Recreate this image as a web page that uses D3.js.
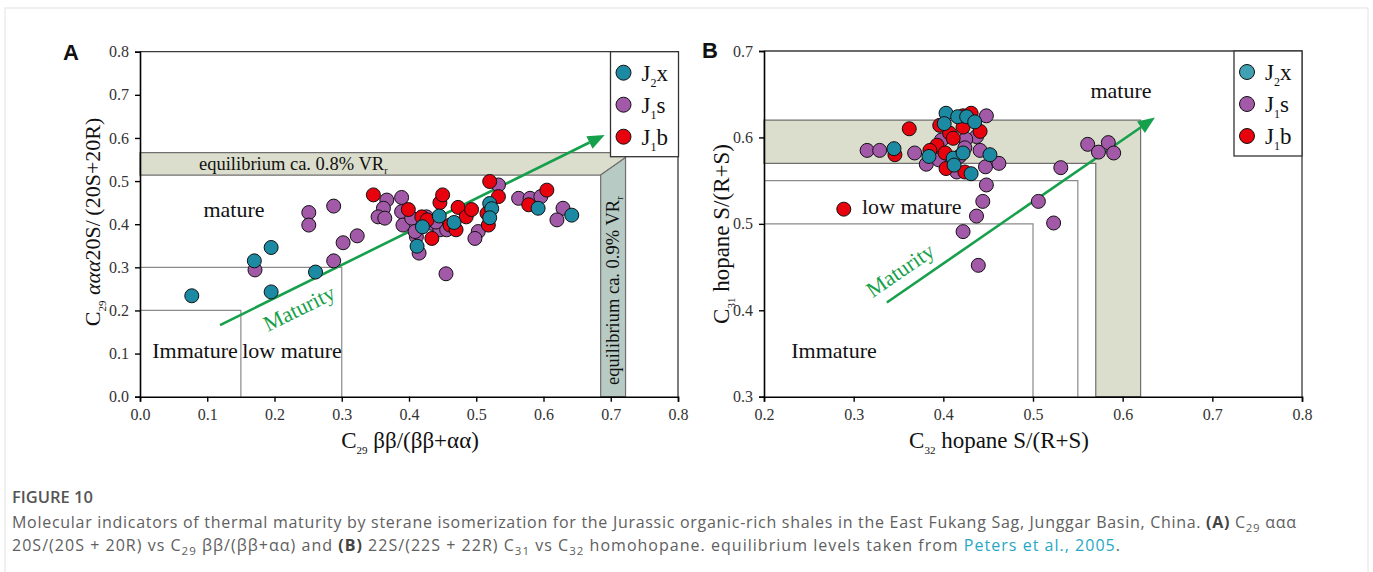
<!DOCTYPE html>
<html>
<head>
<meta charset="utf-8">
<script src="https://cdn.jsdelivr.net/npm/d3@7"></script>
<style>
  body { margin: 0; background: #fff; }
  svg { display: block; }
</style>
</head>
<body>
<svg id="chart"></svg>
<script>
// Data
// panel A : C29 bb/(bb+aa) vs C29 aaa20S/(20S+20R)
let aJ2x = [
  [0.077, 0.234], [0.195, 0.346], [0.170, 0.315], [0.195, 0.243], [0.261, 0.289],
  [0.412, 0.349], [0.420, 0.394], [0.445, 0.419], [0.467, 0.404], [0.520, 0.448],
  [0.523, 0.436], [0.520, 0.415], [0.592, 0.437], [0.642, 0.421]
];
let aJ1s = [
  [0.171, 0.294], [0.251, 0.427], [0.251, 0.398], [0.288, 0.442], [0.288, 0.315],
  [0.302, 0.357], [0.323, 0.373], [0.367, 0.456], [0.389, 0.462], [0.362, 0.437],
  [0.354, 0.417], [0.364, 0.414], [0.389, 0.429], [0.391, 0.398], [0.404, 0.414],
  [0.426, 0.417], [0.411, 0.371], [0.415, 0.333], [0.434, 0.402], [0.446, 0.387],
  [0.456, 0.387], [0.503, 0.383], [0.498, 0.367], [0.455, 0.285], [0.533, 0.491],
  [0.563, 0.460], [0.580, 0.460], [0.596, 0.464], [0.629, 0.437], [0.620, 0.410],
  [0.409, 0.383], [0.440, 0.405]
];
let aJ1b = [
  [0.347, 0.468], [0.399, 0.434], [0.419, 0.417], [0.434, 0.367], [0.446, 0.450],
  [0.450, 0.468], [0.461, 0.398], [0.470, 0.387], [0.473, 0.439], [0.485, 0.417],
  [0.493, 0.434], [0.520, 0.499], [0.518, 0.398], [0.516, 0.425], [0.533, 0.464],
  [0.578, 0.445], [0.605, 0.479], [0.427, 0.410]
];

// panel B : C32 hopane S/(R+S) vs C31 hopane S/(R+S)
let bJ2x = [
  [0.345, 0.587], [0.384, 0.578], [0.403, 0.628], [0.401, 0.616], [0.411, 0.576],
  [0.412, 0.568], [0.416, 0.624], [0.426, 0.624], [0.435, 0.618], [0.422, 0.582],
  [0.452, 0.580], [0.431, 0.558]
];
let bJ1s = [
  [0.315, 0.585], [0.329, 0.585], [0.368, 0.582], [0.381, 0.569], [0.398, 0.597],
  [0.395, 0.574], [0.415, 0.560], [0.448, 0.625], [0.437, 0.601], [0.425, 0.598],
  [0.424, 0.588], [0.441, 0.585], [0.447, 0.566], [0.462, 0.570], [0.418, 0.578],
  [0.448, 0.545], [0.444, 0.526], [0.437, 0.509], [0.422, 0.491], [0.439, 0.452],
  [0.506, 0.526], [0.523, 0.501], [0.531, 0.565], [0.561, 0.592], [0.573, 0.583],
  [0.584, 0.594], [0.590, 0.582]
];
let bJ1b = [
  [0.346, 0.580], [0.362, 0.610], [0.393, 0.591], [0.385, 0.585], [0.396, 0.614],
  [0.407, 0.605], [0.411, 0.599], [0.402, 0.582], [0.403, 0.564], [0.422, 0.612],
  [0.422, 0.625], [0.431, 0.628], [0.441, 0.607], [0.424, 0.560], [0.289, 0.517]
];

let aXTicks = [0, 0.1, 0.2, 0.3, 0.4, 0.5, 0.6, 0.7, 0.8];
let aYTicks = [0, 0.1, 0.2, 0.3, 0.4, 0.5, 0.6, 0.7, 0.8];
let bXTicks = [0.2, 0.3, 0.4, 0.5, 0.6, 0.7, 0.8];
let bYTicks = [0.3, 0.4, 0.5, 0.6, 0.7];

// region limits (data units)
let aImmature = [0.15, 0.2];
let aLowMature = [0.3, 0.3];
let aBandH = [0.514, 0.566];   // 0.8% VRr
let aBandV = [0.685, 0.722];   // 0.9% VRr
let bImmature = [0.5, 0.5];
let bLowMature = [0.55, 0.55];
let bBand = [0.57, 0.62];

let aArrow = [[0.119, 0.166], [0.691, 0.607]];
let bArrow = [[0.337, 0.409], [0.636, 0.623]];

let series = ["J2x", "J1s", "J1b"];

// Variables
const width = 1373;
const height = 572;
const serif = "'Liberation Serif', 'Times New Roman', serif";
const green = "#17a04b";
const colors = { J2x: "#1c8aa2", J1s: "#a259a8", J1b: "#e8020e" };
const bandFill = "#dcdecd";
const bandFill2 = "#b7cbc4";
const regionLine = "#8a8a8a";

let svg = d3.select("#chart").attr("width", width).attr("height", height);

svg.append("rect").attr("width", width).attr("height", height).attr("fill", "#fff");
// figure frame
svg.append("rect")
  .attr("x", 5).attr("y", 8).attr("width", 1363).attr("height", 600)
  .attr("fill", "none").attr("stroke", "#e2e2e2");

// Funciones

// text with subscripts, parts = [[text, kind], ...]
function richText(sel, parts, subSize, shift) {
  parts.forEach((p) => {
    let t = sel.append("tspan").text(p[0]);
    if (p[1] == "sub") t.attr("font-size", subSize).attr("baseline-shift", -shift);
    if (p[1] == "b") t.attr("font-weight", "bold").attr("fill", "#444");
    if (p[1] == "i") t.attr("font-style", "italic");
    if (p[1] == "link") t.attr("fill", "#27a8c4");
  });
  return sel;
}

function drawAxes(g, x, y, xt, yt) {
  let xAxis = d3.axisBottom(x).tickValues(xt).tickFormat(d3.format(".1f")).tickSize(5).tickPadding(7);
  let yAxis = d3.axisLeft(y).tickValues(yt).tickFormat(d3.format(".1f")).tickSize(5).tickPadding(6);

  // top / right frame
  g.append("path")
    .attr("d", `M${x.range()[0]},${y.range()[1]}H${x.range()[1]}V${y.range()[0]}`)
    .attr("fill", "none").attr("stroke", "#3a3a3a").attr("stroke-width", 1.3);

  let gx = g.append("g").attr("transform", "translate(0," + y.range()[0] + ")").call(xAxis);
  let gy = g.append("g").attr("transform", "translate(" + x.range()[0] + ",0)").call(yAxis);
  [gx, gy].forEach((a) => {
    a.attr("font-family", serif).attr("font-size", 16);
    a.select(".domain").attr("stroke", "#000").attr("stroke-width", 1.6);
    a.selectAll(".tick line").attr("stroke", "#000").attr("stroke-width", 1.4);
    a.selectAll(".tick text").attr("font-size", 16).attr("fill", "#333");
  });
}

function drawPoints(g, x, y, data) {
  // purple under red under teal
  [["J1s", data.J1s], ["J1b", data.J1b], ["J2x", data.J2x]].forEach((s) => {
    g.append("g").selectAll("circle")
      .data(s[1])
      .enter()
      .append("circle")
      .attr("cx", (d) => x(d[0]))
      .attr("cy", (d) => y(d[1]))
      .attr("r", 7)
      .attr("fill", colors[s[0]])
      .attr("stroke", "#111")
      .attr("stroke-width", 1);
  });
}

function drawLegend(g, left, top, teal) {
  g.append("rect")
    .attr("x", left).attr("y", top).attr("width", 68).attr("height", 105)
    .attr("fill", "#fff").attr("stroke", "#333").attr("stroke-width", 1.3);
  series.forEach((s, i) => {
    let cy = top + 21 + i * 32;
    g.append("circle")
      .attr("cx", left + 13).attr("cy", cy).attr("r", 7.5)
      .attr("fill", s == "J2x" ? teal : colors[s]).attr("stroke", "#111");
    let t = g.append("text")
      .attr("x", left + 31).attr("y", cy + 8)
      .attr("font-family", serif).attr("font-size", 23).attr("fill", "#111");
    richText(t, [["J", ""], [s.charAt(1), "sub"], [s.charAt(2), ""]], 12, 6);
  });
}

function drawArrow(g, x, y, pts) {
  let x0 = x(pts[0][0]), y0 = y(pts[0][1]);
  let x1 = x(pts[1][0]), y1 = y(pts[1][1]);
  let ang = Math.atan2(y1 - y0, x1 - x0);
  let len = 17, half = 7;
  let bx = x1 - len * Math.cos(ang), by = y1 - len * Math.sin(ang);
  g.append("line")
    .attr("x1", x0).attr("y1", y0).attr("x2", bx).attr("y2", by)
    .attr("stroke", green).attr("stroke-width", 2.6);
  g.append("path")
    .attr("d", `M${x1},${y1}L${bx + half * Math.sin(ang)},${by - half * Math.cos(ang)}L${bx - half * Math.sin(ang)},${by + half * Math.cos(ang)}Z`)
    .attr("fill", green);
  return ang * 180 / Math.PI;
}

function label(g, px, py, txt, size, anchor) {
  return g.append("text")
    .attr("x", px).attr("y", py)
    .attr("text-anchor", anchor || "start")
    .attr("font-family", serif).attr("font-size", size).attr("fill", "#111")
    .text(txt);
}

// ---------- Panel A ----------
let xA = d3.scaleLinear().domain([0, 0.8]).range([140, 678]);
let yA = d3.scaleLinear().domain([0, 0.8]).range([396.7, 51.7]);
let gA = svg.append("g");

// equilibrium bands
gA.append("path")
  .attr("d", d3.line()([
    [xA(0), yA(aBandH[1])], [xA(aBandV[1]), yA(aBandH[1])], [xA(aBandV[1]), yA(aBandH[1]) + 5],
    [xA(aBandV[0]), yA(aBandH[0])], [xA(0), yA(aBandH[0])]
  ]) + "Z")
  .attr("fill", bandFill).attr("stroke", "#6f6f6f").attr("stroke-width", 1.2);
gA.append("path")
  .attr("d", d3.line()([
    [xA(aBandV[0]), yA(0)], [xA(aBandV[0]), yA(aBandH[0])], [xA(aBandV[1]), yA(aBandH[1]) + 5],
    [xA(aBandV[1]), yA(0)]
  ]) + "Z")
  .attr("fill", bandFill2).attr("stroke", "#6f6f6f").attr("stroke-width", 1.2);

// immature / low mature boxes
[aImmature, aLowMature].forEach((r) => {
  gA.append("path")
    .attr("d", `M${xA(0)},${yA(r[1])}H${xA(r[0])}V${yA(0)}`)
    .attr("fill", "none").attr("stroke", regionLine).attr("stroke-width", 1.2);
});

drawAxes(gA, xA, yA, aXTicks, aYTicks);

// band labels
let tA1 = label(gA, 199, 170, "", 18.5);
richText(tA1, [["equilibrium ca. 0.8% VR", ""], ["r", "sub"]], 10, 4);
let tA2 = gA.append("text")
  .attr("transform", "translate(619,385) rotate(-90)")
  .attr("font-family", serif).attr("font-size", 18.5).attr("fill", "#111");
richText(tA2, [["equilibrium ca. 0.9% VR", ""], ["r", "sub"]], 10, 4);

label(gA, 234, 217, "mature", 22, "middle");
label(gA, 195, 358, "Immature", 22, "middle");
label(gA, 292, 358, "low mature", 22, "middle");

let angA = drawArrow(gA, xA, yA, aArrow);
gA.append("text")
  .attr("transform", `translate(299,308) rotate(${angA})`)
  .attr("text-anchor", "middle").attr("dy", "0.35em")
  .attr("font-family", serif).attr("font-size", 22).attr("fill", green)
  .text("Maturity");

drawPoints(gA, xA, yA, { J2x: aJ2x, J1s: aJ1s, J1b: aJ1b });
drawLegend(gA, 610.5, 51.7, colors.J2x);

// axis titles
let axA = label(gA, 410, 448, "", 23, "middle");
richText(axA, [["C", ""], ["29", "sub"], [" ββ/(ββ+αα)", ""]], 11, 6);
let ayA = gA.append("text")
  .attr("transform", "translate(100,222) rotate(-90)")
  .attr("text-anchor", "middle")
  .attr("font-family", serif).attr("font-size", 22).attr("fill", "#111");
richText(ayA, [["C", ""], ["29", "sub"], [" ", ""], ["ααα", "i"], ["20S/\u2009(20S+20R)", ""]], 11, 6);

gA.append("text").attr("x", 63).attr("y", 60)
  .attr("font-family", "'Liberation Sans', Arial, sans-serif").attr("font-weight", "bold")
  .attr("font-size", 22).attr("fill", "#111").text("A");

// ---------- Panel B ----------
let xB = d3.scaleLinear().domain([0.2, 0.8]).range([764, 1302]);
let yB = d3.scaleLinear().domain([0.3, 0.7]).range([396.7, 51]);
let gB = svg.append("g");

gB.append("path")
  .attr("d", d3.line()([
    [xB(0.2), yB(bBand[1])], [xB(bBand[1]), yB(bBand[1])], [xB(bBand[1]), yB(0.3)],
    [xB(bBand[0]), yB(0.3)], [xB(bBand[0]), yB(bBand[0])], [xB(0.2), yB(bBand[0])]
  ]) + "Z")
  .attr("fill", bandFill).attr("stroke", "#6f6f6f").attr("stroke-width", 1.2);

[bImmature, bLowMature].forEach((r) => {
  gB.append("path")
    .attr("d", `M${xB(0.2)},${yB(r[1])}H${xB(r[0])}V${yB(0.3)}`)
    .attr("fill", "none").attr("stroke", regionLine).attr("stroke-width", 1.2);
});

drawAxes(gB, xB, yB, bXTicks, bYTicks);

label(gB, 1121, 98, "mature", 22, "middle");
label(gB, 834, 358, "Immature", 22, "middle");
label(gB, 862, 214, "low mature", 22);

let angB = drawArrow(gB, xB, yB, bArrow);
gB.append("text")
  .attr("transform", `translate(900,270) rotate(${angB})`)
  .attr("text-anchor", "middle").attr("dy", "0.35em")
  .attr("font-family", serif).attr("font-size", 22).attr("fill", green)
  .text("Maturity");

drawPoints(gB, xB, yB, { J2x: bJ2x, J1s: bJ1s, J1b: bJ1b });
drawLegend(gB, 1234, 51, "#3fa1b3");

let axB = label(gB, 999, 448, "", 23, "middle");
richText(axB, [["C", ""], ["32", "sub"], ["  hopane S/(R+S)", ""]], 11, 6);
let ayB = gB.append("text")
  .attr("transform", "translate(729,234) rotate(-90)")
  .attr("text-anchor", "middle")
  .attr("font-family", serif).attr("font-size", 23).attr("fill", "#111");
richText(ayB, [["C", ""], ["31", "sub"], ["  hopane S/(R+S)", ""]], 11, 6);

gB.append("text").attr("x", 702).attr("y", 58)
  .attr("font-family", "'Liberation Sans', Arial, sans-serif").attr("font-weight", "bold")
  .attr("font-size", 22).attr("fill", "#111").text("B");

// ---------- Caption ----------
const sans = "'Open Sans', 'Noto Sans', sans-serif";
svg.append("text").attr("x", 12).attr("y", 503)
  .attr("font-family", sans).attr("font-size", 16.5).attr("font-weight", 600)
  .attr("fill", "#555").text("FIGURE 10");

let c1 = svg.append("text").attr("x", 12).attr("y", 528)
  .attr("font-family", sans).attr("font-size", 16).attr("fill", "#606060")
  .attr("textLength", 1284).attr("lengthAdjust", "spacing");
richText(c1, [
  ["Molecular indicators of thermal maturity by sterane isomerization for the Jurassic organic-rich shales in the East Fukang Sag, Junggar Basin, China. ", ""],
  ["(A)", "b"], [" C", ""], ["29", "sub"], [" ααα", ""]
], 11.5, 4);

let c2 = svg.append("text").attr("x", 12).attr("y", 551)
  .attr("font-family", sans).attr("font-size", 16).attr("fill", "#606060")
  .attr("textLength", 1108).attr("lengthAdjust", "spacing");
richText(c2, [
  ["20S/(20S + 20R) vs C", ""], ["29", "sub"], [" ββ/(ββ+αα) and ", ""], ["(B)", "b"],
  [" 22S/(22S + 22R) C", ""], ["31", "sub"], [" vs C", ""], ["32", "sub"],
  [" homohopane. equilibrium levels taken from ", ""], ["Peters et al., 2005", "link"], [".", ""]
], 11.5, 4);
</script>
</body>
</html>
